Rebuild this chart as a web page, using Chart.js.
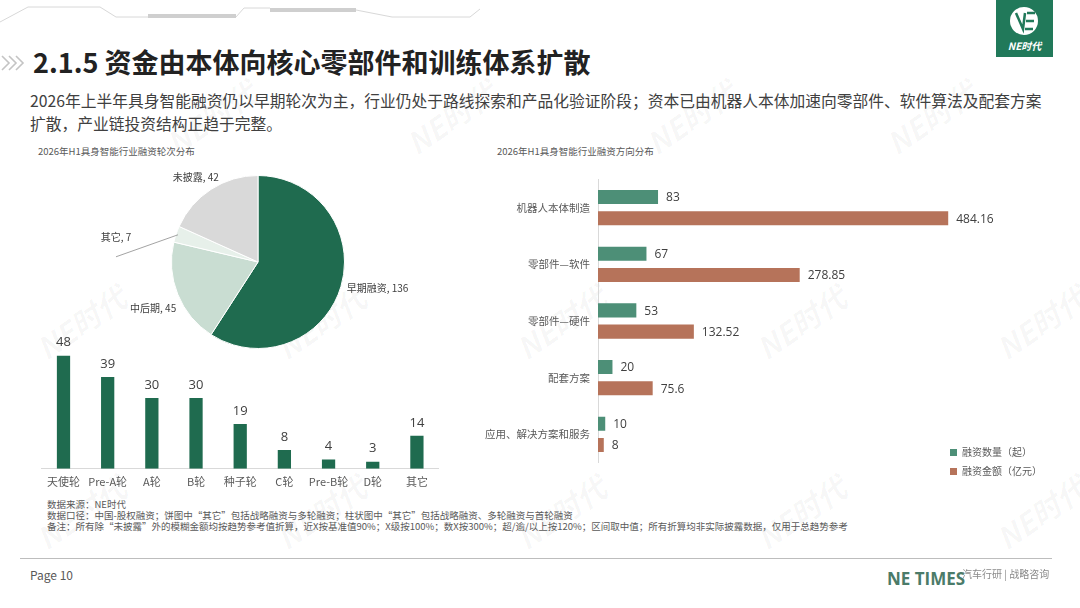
<!DOCTYPE html>
<html>
<head>
<meta charset="utf-8">
<script src="https://cdn.jsdelivr.net/npm/chart.js@4.4.1/dist/chart.umd.min.js"></script>
<style>
html, body { margin: 0; padding: 0; background: #fff; }
body {
    width: 1080px; height: 608px; position: relative; overflow: hidden;
    font-family: "Noto Sans CJK SC", "Noto Sans", sans-serif; color: #333;
}
.abs { position: absolute; }
.title { left: 33px; top: 48px; font-size: 27px; line-height: 28px; font-weight: 700; color: #222; white-space: nowrap; }
.lead { left: 30px; top: 89px; font-size: 15.75px; line-height: 23px; color: #404040; white-space: nowrap; }
.ctitle { font-size: 9.5px; line-height: 12px; color: #595959; white-space: nowrap; }
.notes { left: 47px; top: 499px; font-size: 9.5px; line-height: 11px; color: #595959; white-space: nowrap; }
.wm { font-size: 30px; font-style: italic; font-weight: 700; color: rgba(0,0,0,0.035); transform: rotate(-35deg); white-space: nowrap; }
.legend { left: 950px; top: 442px; font-size: 10px; line-height: 19px; color: #595959; }
.legend span.sw { display: inline-block; width: 7px; height: 7px; margin-right: 5px; vertical-align: 0px; }
</style>
</head>
<body>

<!-- watermarks -->
<div class="abs wm" style="left:160px;top:95px">NE时代</div>
<div class="abs wm" style="left:400px;top:95px">NE时代</div>
<div class="abs wm" style="left:640px;top:95px">NE时代</div>
<div class="abs wm" style="left:880px;top:95px">NE时代</div>
<div class="abs wm" style="left:30px;top:300px">NE时代</div>
<div class="abs wm" style="left:270px;top:300px">NE时代</div>
<div class="abs wm" style="left:510px;top:300px">NE时代</div>
<div class="abs wm" style="left:750px;top:300px">NE时代</div>
<div class="abs wm" style="left:990px;top:300px">NE时代</div>
<div class="abs wm" style="left:30px;top:490px">NE时代</div>
<div class="abs wm" style="left:270px;top:490px">NE时代</div>
<div class="abs wm" style="left:510px;top:490px">NE时代</div>
<div class="abs wm" style="left:750px;top:490px">NE时代</div>
<div class="abs wm" style="left:990px;top:490px">NE时代</div>

<!-- top decoration -->
<svg class="abs" style="left:0;top:0" width="480" height="30">
    <polyline points="0,22 28,7 100,7 116,17 148,17" fill="none" stroke="#d8d8d8" stroke-width="1"/>
    <rect x="148" y="14" width="88" height="4" fill="#cfcfcf"/>
    <polyline points="236,17 244,8 270,8" fill="none" stroke="#d8d8d8" stroke-width="1"/>
    <rect x="270" y="8" width="86" height="4" fill="#cfcfcf"/>
    <polyline points="356,10 392,17 470,17 480,9" fill="none" stroke="#d8d8d8" stroke-width="1"/>
</svg>
<svg class="abs" style="left:0;top:54px" width="30" height="20">
    <polyline points="2,2 9,9 2,16" fill="none" stroke="#c4c4c4" stroke-width="1.6"/>
    <polyline points="9,2 16,9 9,16" fill="none" stroke="#c4c4c4" stroke-width="1.6"/>
    <polyline points="16,2 23,9 16,16" fill="none" stroke="#c4c4c4" stroke-width="1.6"/>
</svg>

<!-- logo -->
<div class="abs" style="left:996px;top:0;width:57px;height:57px;background:#21795a;">
    <svg width="57" height="40" style="position:absolute;left:0;top:0">
        <circle cx="28" cy="21" r="14" fill="#fff"/>
        <path d="M20,13 L27,29 L29,13" fill="none" stroke="#21795a" stroke-width="2.5"/>
        <path d="M31,13 L39,13 M30,21 L38,21 M29,29 L37,29" stroke="#21795a" stroke-width="2.5"/>
    </svg>
    <div style="position:absolute;left:0;width:57px;top:40px;text-align:center;color:#fff;font-size:10px;font-style:italic;font-weight:700;line-height:12px;">NE时代</div>
</div>

<div class="abs title">2.1.5 资金由本体向核心零部件和训练体系扩散</div>
<div class="abs lead">2026年上半年具身智能融资仍以早期轮次为主，行业仍处于路线探索和产品化验证阶段；资本已由机器人本体加速向零部件、软件算法及配套方案<br>扩散，产业链投资结构正趋于完整。</div>

<div class="abs ctitle" style="left:38px;top:145px">2026年H1具身智能行业融资轮次分布</div>
<div class="abs ctitle" style="left:497px;top:145px">2026年H1具身智能行业融资方向分布</div>

<div class="abs" style="left:80px;top:165px;width:356px;height:194px"><canvas id="pie"></canvas></div>
<div class="abs" style="left:41px;top:325px;width:398px;height:169px"><canvas id="rounds"></canvas></div>
<div class="abs" style="left:480px;top:165px;width:552px;height:312px"><canvas id="sectors"></canvas></div>

<div class="abs legend">
    <div><span class="sw" style="background:#4d8f77"></span>融资数量（起）</div>
    <div><span class="sw" style="background:#b6735a"></span>融资金额（亿元）</div>
</div>

<div class="abs notes">
    数据来源：NE时代<br>
    数据口径：中国-股权融资；饼图中“其它”包括战略融资与多轮融资；柱状图中“其它”包括战略融资、多轮融资与首轮融资<br>
    备注：所有除“未披露”外的模糊金额均按趋势参考值折算，近X按基准值90%；X级按100%；数X按300%；超/逾/以上按120%；区间取中值；所有折算均非实际披露数据，仅用于总趋势参考
</div>

<div class="abs" style="left:20px;top:558px;width:1032px;height:1px;background:#bdbdbd"></div>
<div class="abs" style="left:30px;top:567px;font-size:12px;line-height:16px;color:#595959">Page 10</div>
<div class="abs" style="left:887px;top:568px;font-size:17px;line-height:22px;font-weight:700;color:#4b7b69;font-family:'Open Sans','Noto Sans',sans-serif">NE TIMES</div>
<div class="abs" style="left:962px;top:567px;font-size:10px;line-height:14px;color:#8a8a8a">汽车行研 | 战略咨询</div>

<script>
'use strict';

// pie: financing stage
const stageLabels = ['早期融资', '中后期', '其它', '未披露'];
const stageCounts = [136, 45, 7, 42];

// bars: financing rounds
const roundLabels = ['天使轮', 'Pre-A轮', 'A轮', 'B轮', '种子轮', 'C轮', 'Pre-B轮', 'D轮', '其它'];
const roundCounts = [48, 39, 30, 30, 19, 8, 4, 3, 14];

// horizontal bars: financing direction
const sectorLabels = ['机器人本体制造', '零部件—软件', '零部件—硬件', '配套方案', '应用、解决方案和服务'];
const sectorDeals = [83, 67, 53, 20, 10];
const sectorAmounts = [484.16, 278.85, 132.52, 75.6, 8];

const FONT = '"Noto Sans CJK SC", "Noto Sans", sans-serif';
const NUM_FONT = '"Open Sans", "Noto Sans CJK SC", sans-serif';

/**
 * Labels around the pie, one per slice. Small slices get a leader line.
 */
const pieLabelStyle = [
    { align: 'left', dx: 0, dy: 0 },
    { align: 'right', dx: 4, dy: 12 },
    { align: 'center', leader: true },
    { align: 'center', dx: -12, dy: -7 },
];

const pieLabels = {
    id: 'pieLabels',
    afterDatasetsDraw(chart) {
        const ctx = chart.ctx;
        const meta = chart.getDatasetMeta(0);
        ctx.save();
        ctx.font = '10px ' + FONT;
        ctx.fillStyle = '#404040';
        ctx.textBaseline = 'middle';
        meta.data.forEach((arc, i) => {
            const p = arc.getProps(['x', 'y', 'startAngle', 'endAngle', 'outerRadius'], true);
            const mid = (p.startAngle + p.endAngle) / 2;
            const text = stageLabels[i] + ', ' + stageCounts[i];
            const st = pieLabelStyle[i];
            if (st.leader) {
                const ex = p.x + Math.cos(mid) * (p.outerRadius - 2);
                const ey = p.y + Math.sin(mid) * (p.outerRadius - 2);
                const lx = ex - 62;
                const ly = ey + 22;
                ctx.strokeStyle = '#8c8c8c';
                ctx.lineWidth = 0.8;
                ctx.beginPath();
                ctx.moveTo(ex, ey);
                ctx.lineTo(lx, ly);
                ctx.stroke();
                ctx.textAlign = 'center';
                ctx.fillText(text, lx, ly - 20);
                return;
            }
            const r = p.outerRadius + 6;
            ctx.textAlign = st.align;
            ctx.fillText(text, p.x + Math.cos(mid) * r + st.dx, p.y + Math.sin(mid) * r + st.dy);
        });
        ctx.restore();
    }
};

new Chart(document.getElementById('pie'), {
    type: 'pie',
    data: {
        labels: stageLabels,
        datasets: [{
            data: stageCounts,
            backgroundColor: ['#1f6b4f', '#c9ddd2', '#e7f0ea', '#d9d9d9'],
            borderColor: '#ffffff',
            borderWidth: 1,
        }],
    },
    options: {
        responsive: true,
        maintainAspectRatio: false,
        animation: false,
        layout: { padding: { top: 10, bottom: 10 } },
        plugins: { legend: { display: false }, tooltip: { enabled: false } },
    },
    plugins: [pieLabels],
});

/**
 * Value labels on top of vertical bars / at the end of horizontal bars.
 */
const barValues = {
    id: 'barValues',
    afterDatasetsDraw(chart, args, opts) {
        const ctx = chart.ctx;
        ctx.save();
        ctx.font = opts.font;
        ctx.fillStyle = '#404040';
        chart.data.datasets.forEach((ds, di) => {
            chart.getDatasetMeta(di).data.forEach((bar, i) => {
                if (opts.horizontal) {
                    ctx.textAlign = 'left';
                    ctx.textBaseline = 'middle';
                    ctx.fillText(String(ds.data[i]), bar.x + 8, bar.y + 1);
                } else {
                    ctx.textAlign = 'center';
                    ctx.textBaseline = 'middle';
                    ctx.fillText(String(ds.data[i]), bar.x, bar.y - 13);
                }
            });
        });
        ctx.restore();
    }
};

new Chart(document.getElementById('rounds'), {
    type: 'bar',
    data: {
        labels: roundLabels,
        datasets: [{
            data: roundCounts,
            backgroundColor: '#1f6b4f',
            categoryPercentage: 1,
            barPercentage: 0.3,
        }],
    },
    options: {
        responsive: true,
        maintainAspectRatio: false,
        animation: false,
        layout: { padding: { top: 26, left: 0, right: 0, bottom: 0 } },
        plugins: {
            legend: { display: false },
            tooltip: { enabled: false },
            barValues: { font: '13px ' + NUM_FONT },
        },
        scales: {
            x: {
                grid: { display: false, drawTicks: false },
                border: { display: true, color: '#d9d9d9' },
                ticks: { color: '#595959', font: { size: 11, family: FONT }, padding: 6, maxRotation: 0, autoSkip: false },
            },
            y: { display: false, min: 0, max: 50 },
        },
    },
    plugins: [barValues],
});

new Chart(document.getElementById('sectors'), {
    type: 'bar',
    data: {
        labels: sectorLabels,
        datasets: [
            { label: '融资数量（起）', data: sectorDeals, backgroundColor: '#4d8f77' },
            { label: '融资金额（亿元）', data: sectorAmounts, backgroundColor: '#b6735a' },
        ],
    },
    options: {
        indexAxis: 'y',
        responsive: true,
        maintainAspectRatio: false,
        animation: false,
        datasets: { bar: { categoryPercentage: 0.75, barPercentage: 0.66 } },
        layout: { padding: { top: 8, right: 0, bottom: 0, left: 0 } },
        plugins: {
            legend: { display: false },
            tooltip: { enabled: false },
            barValues: { font: '12px ' + NUM_FONT, horizontal: true },
        },
        scales: {
            x: { display: false, min: 0, max: 600 },
            y: {
                grid: { display: false, drawTicks: false },
                border: { display: true, color: '#d9d9d9' },
                ticks: { color: '#595959', font: { size: 10.5, family: FONT }, padding: 8 },
                afterFit: (scale) => { scale.width = 118; },
            },
        },
    },
    plugins: [barValues],
});
</script>
</body>
</html>
